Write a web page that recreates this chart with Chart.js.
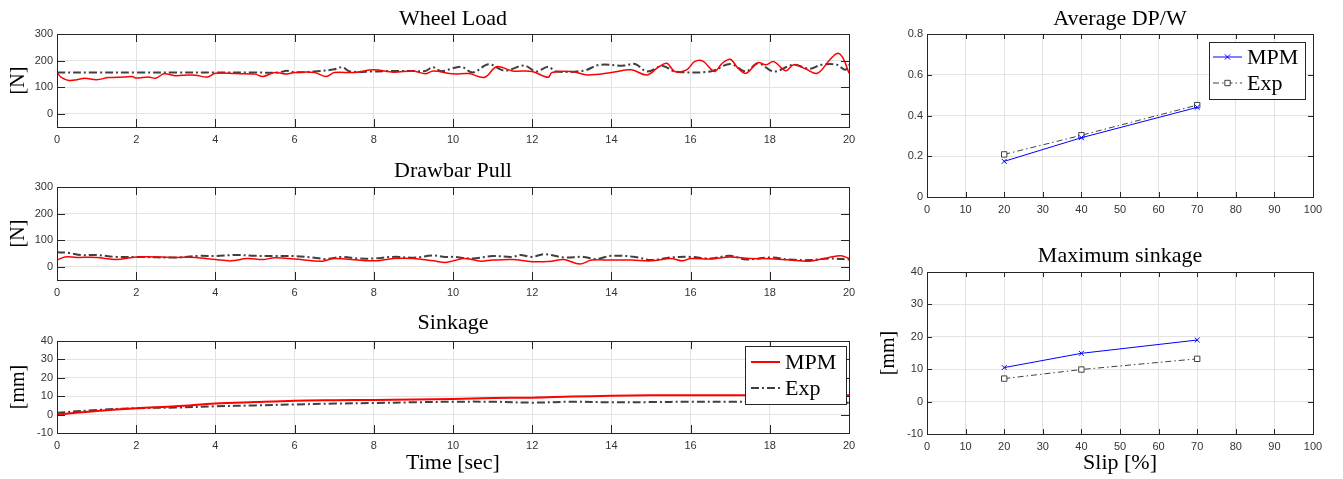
<!DOCTYPE html>
<html><head><meta charset="utf-8">
<script src="https://cdn.jsdelivr.net/npm/chart.js@4/dist/chart.umd.min.js"></script>
<style>
html,body{margin:0;padding:0;background:#fff;}
#wrap{position:relative;width:1343px;height:479px;overflow:hidden;background:#fff;}
canvas{position:absolute;}
</style></head><body>
<div id="wrap">
<canvas id="c1" width="870" height="150" style="left:0;top:0;width:870px;height:150px"></canvas>
<canvas id="c2" width="870" height="150" style="left:0;top:150px;width:870px;height:150px"></canvas>
<canvas id="c3" width="870" height="179" style="left:0;top:300px;width:870px;height:179px"></canvas>
<canvas id="c4" width="473" height="230" style="left:870px;top:0;width:473px;height:230px"></canvas>
<canvas id="c5" width="473" height="249" style="left:870px;top:230px;width:473px;height:249px"></canvas>
</div>
<script>
// ---------- tick labels ----------
const timeTicks = [0,2,4,6,8,10,12,14,16,18,20];
const forceTicks = [0,100,200,300];
const sinkTicks = [-10,0,10,20,30,40];
const slipTicks = [0,10,20,30,40,50,60,70,80,90,100];
const dpwTicks = [0,0.2,0.4,0.6,0.8];
const maxSinkTicks = [-10,0,10,20,30,40];

// ---------- Wheel Load ----------
const wlTimeMPM = [0,0.1,0.3,0.5,0.7,1.0,1.3,1.7,1.9,2.0, 2.3,2.5,2.7,3.0,3.3,3.5,3.8,4.0,4.5,5.0, 5.2,5.5,5.8,6.0,6.5,6.8,7.0,7.5,8.0,8.5, 9.0,9.3,9.5,10.0,10.4,10.8,11.1,11.5,12.0,12.4, 12.5,13.0,13.4,14.0,14.5,14.9,15.2,15.4,15.6,15.9, 16.1,16.3,16.6,16.8,17.0,17.2,17.4,17.7,17.9,18.1, 18.4,18.6,18.9,19.2,19.5,19.7,19.85,20];
const wlMPM = [155,138,125,128,133,128,136,138,140,134, 138,134,150,143,146,145,138,152,151,149, 140,155,149,155,155,140,155,155,165,156, 161,150,161,150,151,137,177,161,159,137, 155,159,146,155,165,146,177,190,159,165, 196,199,159,190,205,171,152,192,184,196, 162,184,169,152,200,227,209,152];
const wlTimeExp = [0,1,2,3,4,5,5.6,5.8,6,6.5, 7,7.2,7.4,8,8.5,9,9.3,9.5,9.7,10.2, 10.5,10.9,11.3,11.8,12.1,12.4,12.6,13.3,13.7,14.3, 14.6,14.9,15.3,15.6,16.5,17,17.4,17.7,18.1,18.6, 19,19.3,19.7,19.9,20];
const wlExp = [155,155,155,155,155,155,155,162,156,159, 167,175,159,159,161,161,161,175,160,177, 155,186,162,181,159,177,159,162,184,181, 187,159,180,159,159,187,159,190,159,184, 169,184,184,165,184];

// ---------- Drawbar Pull ----------
const dbTimeMPM = [0,0.2,0.5,1,1.5,2,3,3.5,4,4.4, 4.8,5.2,5.5,6,6.7,7,8,8.5,9,9.5, 9.8,10,10.3,10.7,11,11.5,12,12.5,12.8,13.2, 13.5,14,14.5,15,15.5,15.8,16,16.5,17,17.5, 18,18.5,19,19.5,19.8,20];
const dbMPM = [25,37,35,35,27,37,35,35,27,22, 31,27,34,29,21,31,22,31,31,22, 16,22,31,21,25,27,19,21,27,10, 25,25,25,22,31,22,31,29,37,31, 30,25,21,35,41,31];
const dbTimeExp = [0,0.3,0.6,1,1.5,2,3,3.6,4,4.5, 5,5.5,6,6.5,6.8,7.2,7.6,8,8.5,9, 9.5,9.8,10,10.5,11,11.5,11.7,12,12.3,12.8, 13.3,13.6,14,14.6,15,15.5,16,16.5,17,17.4, 18,18.5,19,19.5,20];
const dbExp = [54,52,44,44,37,37,35,41,40,44, 41,40,40,34,29,37,31,31,37,34, 42,37,37,31,40,37,44,37,47,35, 37,29,41,37,25,35,37,31,41,27, 35,27,25,31,27];

// ---------- Sinkage ----------
const skTime = [0,1,2,3,4,5,6,7,8,9,10,11,12,13,14,15,16,17,18,19,20];
const skMPM = [0,2,3.5,4.5,6,6.8,7.5,7.8,8,8.2,8.5,9,9.2,9.8,10.2,10.5,10.5,10.5,10.5,10.5,10.5];
const skExp = [1,2.5,3.5,3.8,4.5,5,5.5,6,6.3,6.7,7,7,6.5,7,6.7,6.8,7,7,7,6.8,6.5];

// ---------- Slip sweeps ----------
const slip = [20,40,70];
const dpwMPM = [0.175,0.291,0.44];
const dpwExp = [0.209,0.303,0.451];
const maxSinkMPM = [10.5,14.9,19.0];
const maxSinkExp = [7.1,9.9,13.2];

// ---------- helpers ----------
const pts = (xs, ys) => xs.map((x, i) => ({x: x, y: ys[i]}));
const SERIF = '"Liberation Serif", "Times New Roman", serif';
const SANS = '"Liberation Sans", Arial, sans-serif';
const AX = '#262626';
const GRID = '#e3e3e3';

function drawMarker(ctx, style, x, y, r, color) {
  ctx.save();
  ctx.setLineDash([]);
  ctx.strokeStyle = color; ctx.lineWidth = 1;
  ctx.beginPath();
  if (style === 'crossRot') {
    const d = r * 0.75;
    ctx.moveTo(x - d, y - d); ctx.lineTo(x + d, y + d);
    ctx.moveTo(x + d, y - d); ctx.lineTo(x - d, y + d);
  } else if (style === 'rect') {
    const s = r * Math.SQRT1_2;
    ctx.fillStyle = '#fff';
    ctx.fillRect(x - s, y - s, 2 * s, 2 * s);
    ctx.rect(x - s, y - s, 2 * s, 2 * s);
  }
  ctx.stroke();
  ctx.restore();
}

const matlabPlugin = {
  id: 'matlab',
  afterDatasetsDraw(chart, args, o) {
    const {ctx, chartArea: a, scales} = chart;
    const len = o.tickLen;
    ctx.save();
    ctx.strokeStyle = AX; ctx.lineWidth = 1; ctx.setLineDash([]);
    ctx.beginPath();
    scales.x.ticks.forEach(t => {
      const px = Math.round(scales.x.getPixelForValue(t.value)) + 0.5;
      ctx.moveTo(px, a.bottom); ctx.lineTo(px, a.bottom - len);
      ctx.moveTo(px, a.top); ctx.lineTo(px, a.top + len);
    });
    scales.y.ticks.forEach(t => {
      const py = Math.round(scales.y.getPixelForValue(t.value)) + 0.5;
      ctx.moveTo(a.left, py); ctx.lineTo(a.left + len, py);
      ctx.moveTo(a.right, py); ctx.lineTo(a.right - len, py);
    });
    ctx.stroke();
    ctx.strokeRect(Math.round(a.left) + 0.5, Math.round(a.top) + 0.5, Math.round(a.right - a.left), Math.round(a.bottom - a.top));
    // title
    ctx.fillStyle = '#000';
    ctx.font = o.titleFont;
    ctx.textAlign = 'center'; ctx.textBaseline = 'alphabetic';
    ctx.fillText(o.title, (a.left + a.right) / 2, o.titleY);
    // legend
    const L = o.legend;
    if (L) {
      const x0 = Math.round(a.right - L.offRight - L.w), y0 = Math.round(a.top + L.offTop);
      ctx.fillStyle = '#fff'; ctx.fillRect(x0, y0, L.w, L.h);
      ctx.strokeStyle = AX; ctx.lineWidth = 1; ctx.strokeRect(x0 + 0.5, y0 + 0.5, L.w, L.h);
      chart.data.datasets.forEach((ds, i) => {
        const y = y0 + L.rowY[i];
        ctx.strokeStyle = ds.borderColor; ctx.lineWidth = ds.borderWidth;
        ctx.setLineDash(ds.borderDash || []);
        ctx.beginPath(); ctx.moveTo(x0 + L.lineX[0], y); ctx.lineTo(x0 + L.lineX[1], y); ctx.stroke();
        ctx.setLineDash([]);
        if (ds.pointRadius > 0) drawMarker(ctx, ds.pointStyle, x0 + (L.lineX[0] + L.lineX[1]) / 2, y, ds.pointRadius, ds.pointBorderColor || ds.borderColor);
        ctx.fillStyle = '#000'; ctx.font = L.font;
        ctx.textAlign = 'left'; ctx.textBaseline = 'middle';
        ctx.fillText(ds.label, x0 + L.textX, y + 1);
      });
    }
    ctx.restore();
  }
};

function axis(min, max, tickVals, fitProp, fitVal, pad, title) {
  return {
    type: 'linear', min: min, max: max,
    afterBuildTicks: s => { s.ticks = tickVals.map(v => ({value: v})); },
    afterFit: s => { s[fitProp] = fitVal; },
    grid: {color: GRID, lineWidth: 1, drawTicks: false},
    border: {display: false},
    ticks: {font: {family: SANS, size: 11}, color: '#333', padding: pad, autoSkip: false, maxRotation: 0},
    title: title || {display: false}
  };
}

function makeChart(id, c) {
  return new Chart(document.getElementById(id), {
    type: 'line',
    data: {datasets: c.datasets},
    options: {
      responsive: false, animation: false, devicePixelRatio: 1,
      layout: {padding: {top: c.top, right: c.right, left: 0, bottom: 0}},
      elements: {line: {tension: c.tension || 0}},
      plugins: {
        legend: {display: false}, tooltip: {enabled: false}, title: {display: false},
        matlab: {title: c.title, titleY: c.titleY, titleFont: '22px ' + SERIF, tickLen: c.tickLen, legend: c.legend}
      },
      scales: {
        x: axis(c.xMin, c.xMax, c.xTicks, 'height', c.xH, 6, c.xTitle),
        y: axis(c.yMin, c.yMax, c.yTicks, 'width', 57, 4, c.yTitle)
      }
    },
    plugins: [matlabPlugin]
  });
}

const yTitle = txt => ({display: true, text: txt, color: '#000', font: {family: SERIF, size: 20}, padding: {top: 7, bottom: 0}});
const xTitle = txt => ({display: true, text: txt, color: '#000', font: {family: SERIF, size: 22}, padding: {top: 0, bottom: 3}});

const redLine = (label, data, w) => ({label: label, data: data, borderColor: '#ff0000', borderWidth: w, pointRadius: 0, fill: false});
const darkDash = (label, data) => ({label: label, data: data, borderColor: '#404040', borderWidth: 2, borderDash: [8, 3, 2, 3], pointRadius: 0, fill: false});

makeChart('c1', {
  title: 'Wheel Load', titleY: 25, top: 34, right: 21, xH: 23, tickLen: 8, tension: 0.35,
  xMin: 0, xMax: 20, xTicks: timeTicks, yMin: -50, yMax: 300, yTicks: forceTicks, yTitle: yTitle('[N]'),
  datasets: [redLine('MPM', pts(wlTimeMPM, wlMPM), 1.5), darkDash('Exp', pts(wlTimeExp, wlExp))]
});
makeChart('c2', {
  title: 'Drawbar Pull', titleY: 26.7, top: 37, right: 21, xH: 20, tickLen: 8, tension: 0.35,
  xMin: 0, xMax: 20, xTicks: timeTicks, yMin: -50, yMax: 300, yTicks: forceTicks, yTitle: yTitle('[N]'),
  datasets: [redLine('MPM', pts(dbTimeMPM, dbMPM), 1.5), darkDash('Exp', pts(dbTimeExp, dbExp))]
});
makeChart('c3', {
  title: 'Sinkage', titleY: 29, top: 41, right: 21, xH: 46, tickLen: 8, tension: 0.35,
  xMin: 0, xMax: 20, xTicks: timeTicks, yMin: -10, yMax: 40, yTicks: sinkTicks, yTitle: yTitle('[mm]'), xTitle: xTitle('Time [sec]'),
  legend: {w: 101, h: 58, offRight: 3, offTop: 5, lineX: [6, 35], textX: 40, rowY: [16, 42], font: '22px ' + SERIF},
  datasets: [redLine('MPM', pts(skTime, skMPM), 2), darkDash('Exp', pts(skTime, skExp))]
});

const blueMk = (label, data) => ({label: label, data: data, borderColor: '#0000ff', borderWidth: 1, pointStyle: 'crossRot', pointRadius: 3.5, pointBorderColor: '#0000ff', pointBorderWidth: 1, fill: false});
const grayMk = (label, data) => ({label: label, data: data, borderColor: '#404040', borderWidth: 1, borderDash: [6, 3, 1.5, 3], pointStyle: 'rect', pointRadius: 3.8, pointBorderColor: '#404040', pointBackgroundColor: '#ffffff', pointBorderWidth: 1, fill: false});

makeChart('c4', {
  title: 'Average DP/W', titleY: 25, top: 34, right: 30, xH: 33, tickLen: 5,
  xMin: 0, xMax: 100, xTicks: slipTicks, yMin: 0, yMax: 0.8, yTicks: dpwTicks,
  legend: {w: 96, h: 57, offRight: 8, offTop: 8, lineX: [4, 33], textX: 38, rowY: [15, 41], font: '22px ' + SERIF},
  datasets: [blueMk('MPM', pts(slip, dpwMPM)), grayMk('Exp', pts(slip, dpwExp))]
});
makeChart('c5', {
  title: 'Maximum sinkage', titleY: 32, top: 42, right: 30, xH: 45, tickLen: 5,
  xMin: 0, xMax: 100, xTicks: slipTicks, yMin: -10, yMax: 40, yTicks: maxSinkTicks, yTitle: yTitle('[mm]'), xTitle: xTitle('Slip [%]'),
  datasets: [blueMk('MPM', pts(slip, maxSinkMPM)), grayMk('Exp', pts(slip, maxSinkExp))]
});
</script>
</body></html>
